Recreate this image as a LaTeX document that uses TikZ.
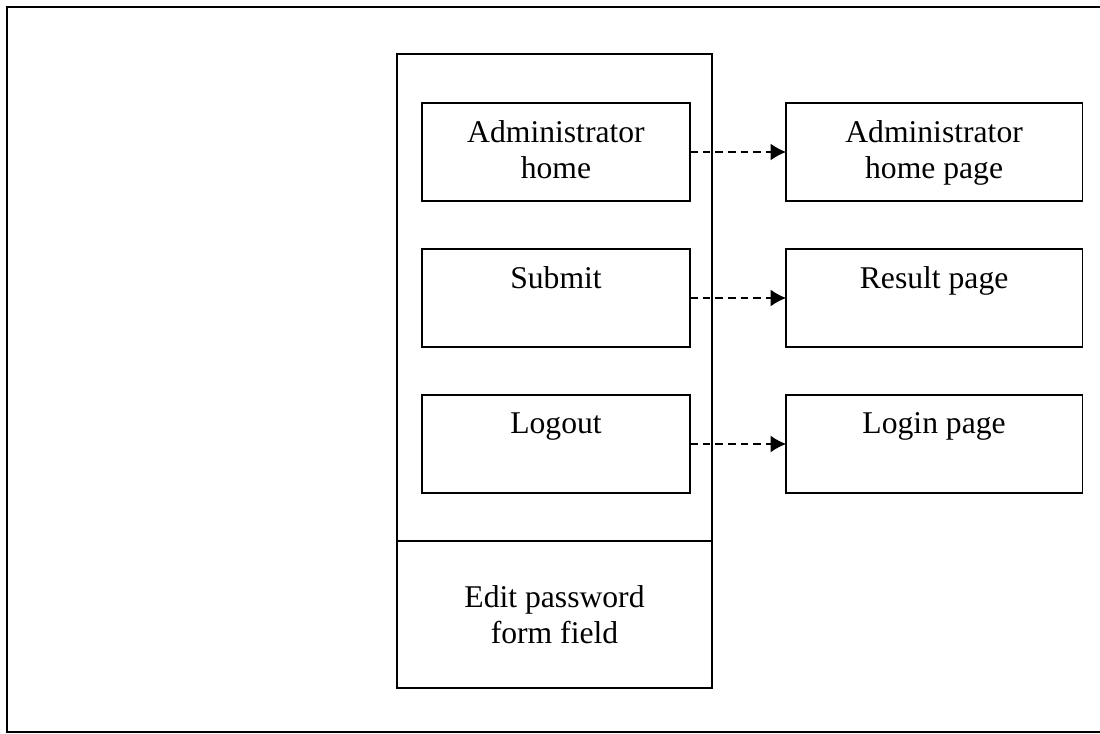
\documentclass[tikz,border=0pt]{standalone}
\usepackage{fontspec}
\setmainfont{Liberation Serif}
\usetikzlibrary{positioning, arrows.meta}

\begin{document}
\begin{tikzpicture}[x=0.025cm, y=-0.025cm, line width=0.9pt,
        font=\fontsize{22.5}{25.6}\selectfont,
        box/.style={draw, outer sep=0pt, minimum width=6.7cm, minimum height=2.45cm},
        page/.style={draw, outer sep=0pt, minimum width=7.4cm, minimum height=2.45cm},
        ttl/.style={anchor=north, align=center, inner sep=0pt, yshift=-0.42cm},
        link/.style={dashed, dash pattern=on 5.5pt off 3.5pt, -{Latex[length=11pt, width=12pt]}}]
            \useasboundingbox (0,0) rectangle (1100,734);
            \draw (1100,7) -| (7,732) -- (1100,732);

            % menu column
            \node[draw, outer sep=0pt, minimum width=7.875cm, minimum height=12.175cm] (menu) at (554.5,297.5) {};
            \node[draw, outer sep=0pt, minimum width=7.875cm, minimum height=3.675cm, align=center, below=0pt of menu] (edit) {Edit password\\form field};

            \node[box, label={[ttl]north:{Administrator\\home}}] (adm) at (556,152) {};
            \node[box, label={[ttl]north:Submit}] (sub) at (556,298) {};
            \node[box, label={[ttl]north:Logout}] (out) at (556,444) {};

            % target pages
            \node[page, right=2.4cm of adm, label={[ttl]north:{Administrator\\home page}}] (admp) {};
            \node[page, right=2.4cm of sub, label={[ttl]north:Result page}] (res) {};
            \node[page, right=2.4cm of out, label={[ttl]north:Login page}] (login) {};

            \draw[link] (adm) -- (admp);
            \draw[link] (sub) -- (res);
            \draw[link] (out) -- (login);
        \end{tikzpicture}
\end{document}
